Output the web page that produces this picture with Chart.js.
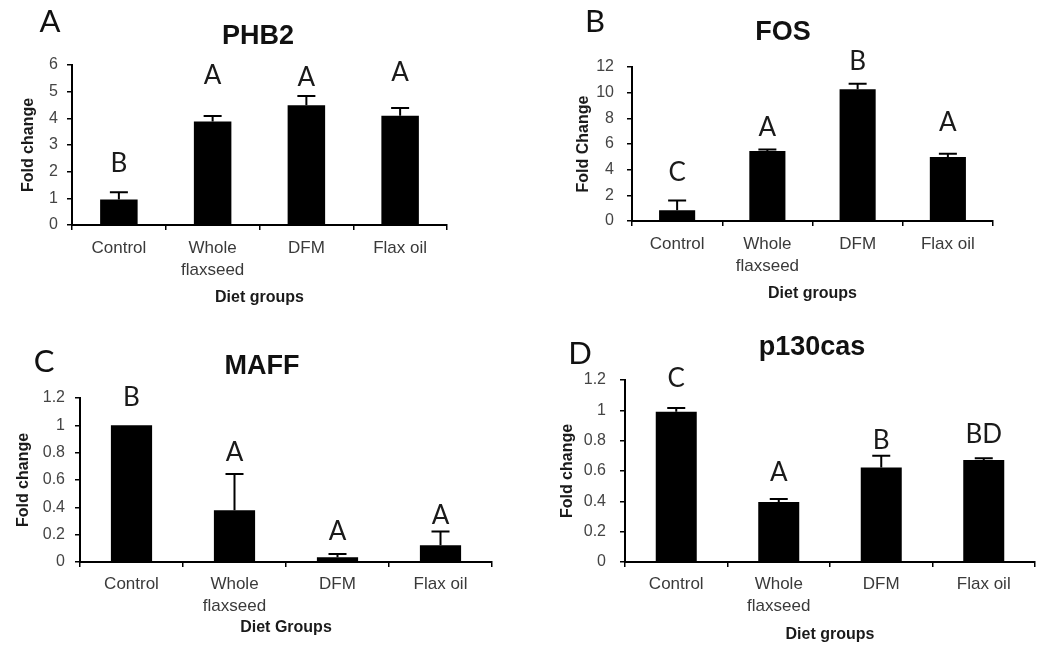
<!DOCTYPE html>
<html>
<head>
<meta charset="utf-8">
<script src="https://cdn.jsdelivr.net/npm/chart.js@4"></script>
<style>
  body { margin: 0; background: #fff; }
  #fig { position: relative; width: 1050px; height: 657px; overflow: hidden; }
  #fig canvas { position: absolute; }
</style>
</head>
<body>
<div id="fig">
  <canvas id="phb2Chart" width="525" height="310" style="left:0;top:0"></canvas>
  <canvas id="fosChart" width="525" height="310" style="left:525px;top:0"></canvas>
  <canvas id="maffChart" width="525" height="347" style="left:0;top:310px"></canvas>
  <canvas id="p130Chart" width="525" height="347" style="left:525px;top:310px"></canvas>
</div>
<script>
// Diet groups (x categories)
const groups = ["Control", ["Whole", "flaxseed"], "DFM", "Flax oil"];

// A - PHB2
const phb2Values = [0.96, 3.88, 4.49, 4.1];
const phb2Errors = [0.27, 0.21, 0.35, 0.29];
const phb2Letters = ["B", "A", "A", "A"];
const phb2LetterY = [2.29, 5.62, 5.51, 5.7];
const phb2Ticks = [0, 1, 2, 3, 4, 5, 6];

// B - FOS
const fosValues = [0.83, 5.45, 10.26, 4.99];
const fosErrors = [0.77, 0.13, 0.44, 0.26];
const fosLetters = ["C", "A", "B", "A"];
const fosLetterY = [3.74, 7.25, 12.4, 7.7];
const fosTicks = [0, 2, 4, 6, 8, 10, 12];

// C - MAFF
const maffValues = [1.0, 0.378, 0.034, 0.122];
const maffErrors = [0, 0.265, 0.024, 0.102];
const maffLetters = ["B", "A", "A", "A"];
const maffLetterY = [1.2, 0.8, 0.22, 0.34];
const maffTicks = [0, 0.2, 0.4, 0.6, 0.8, 1, 1.2];

// D - p130cas
const p130Values = [0.99, 0.395, 0.623, 0.673];
const p130Errors = [0.025, 0.02, 0.077, 0.011];
const p130Letters = ["C", "A", "B", "BD"];
const p130LetterY = [1.21, 0.59, 0.8, 0.84];
const p130Ticks = [0, 0.2, 0.4, 0.6, 0.8, 1, 1.2];

const SANS = "'Liberation Sans', Arial, sans-serif";
const LETTER_FONT = "Lato, 'Open Sans', sans-serif";

/**
 * Draws upward error bars and the significance letters above each bar
 */
const errorLetterPlugin = {
  id: "errorLetters",
  afterDatasetsDraw(chart, args, opts) {
    const ctx = chart.ctx;
    const yScale = chart.scales.y;
    const meta = chart.getDatasetMeta(0);
    const values = chart.data.datasets[0].data;

    ctx.save();
    ctx.strokeStyle = "#000";
    ctx.lineWidth = 2;
    meta.data.forEach((bar, i) => {
      const err = opts.errors[i];
      if (!err) return;
      const yTop = yScale.getPixelForValue(values[i] + err);
      ctx.beginPath();
      ctx.moveTo(bar.x, bar.y);
      ctx.lineTo(bar.x, yTop);
      ctx.moveTo(bar.x - 9, yTop);
      ctx.lineTo(bar.x + 9, yTop);
      ctx.stroke();
    });

    ctx.fillStyle = "#1a1a1a";
    ctx.font = "26px " + LETTER_FONT;
    ctx.textAlign = "center";
    ctx.textBaseline = "middle";
    meta.data.forEach((bar, i) => {
      ctx.fillText(opts.letters[i], bar.x, yScale.getPixelForValue(opts.letterY[i]));
    });
    ctx.restore();
  },
};

/**
 * Draws the panel letter and the gene title
 */
const panelTextPlugin = {
  id: "panelText",
  afterDraw(chart, args, opts) {
    const ctx = chart.ctx;
    ctx.save();
    ctx.textAlign = "center";
    ctx.textBaseline = "middle";
    ctx.fillStyle = "#111";
    ctx.font = "31px " + LETTER_FONT;
    ctx.fillText(opts.letter, opts.letterX, opts.letterY);
    ctx.font = "bold 27px " + SANS;
    ctx.fillText(opts.title, opts.titleX, opts.titleY);
    ctx.restore();
  },
};

function makePanel(canvasId, p) {
  const canvas = document.getElementById(canvasId);
  if (!canvas) {
    console.error("Canvas not found: " + canvasId);
    return null;
  }

  return new Chart(canvas, {
    type: "bar",
    data: {
      labels: groups,
      datasets: [
        {
          data: p.values,
          backgroundColor: "#000",
          borderWidth: 0,
          barPercentage: 0.4,
          categoryPercentage: 1,
        },
      ],
    },
    options: {
      responsive: false,
      animation: false,
      layout: { padding: p.padding },
      scales: {
        x: {
          grid: {
            drawOnChartArea: false,
            tickLength: 5,
            tickColor: "#000",
            lineWidth: 1.5,
          },
          border: { color: "#000", width: 2 },
          ticks: {
            color: "#3a3a3a",
            padding: p.xPad,
            maxRotation: 0,
            autoSkip: false,
            font: { family: SANS, size: 17, lineHeight: 1.32 },
          },
          title: {
            display: true,
            text: p.xTitle,
            color: "#1a1a1a",
            padding: 0,
            font: { family: SANS, size: 16, weight: "bold" },
          },
          afterFit: (scale) => {
            scale.height = p.xHeight;
          },
        },
        y: {
          min: 0,
          max: p.ticks[p.ticks.length - 1],
          afterBuildTicks: (scale) => {
            scale.ticks = p.ticks.map((v) => ({ value: v }));
          },
          grid: {
            drawOnChartArea: false,
            tickLength: 5,
            tickColor: "#000",
            lineWidth: 1.5,
          },
          border: { color: "#000", width: 2 },
          ticks: {
            color: "#444",
            padding: p.yPad,
            font: { family: SANS, size: 16 },
            callback: (v) => String(v),
          },
          title: {
            display: true,
            text: p.yTitle,
            color: "#1a1a1a",
            padding: { top: 3, bottom: 0 },
            font: { family: SANS, size: 16, weight: "bold" },
          },
          afterFit: (scale) => {
            scale.width = p.yWidth;
          },
        },
      },
      plugins: {
        legend: { display: false },
        tooltip: { enabled: false },
        errorLetters: {
          errors: p.errors,
          letters: p.letters,
          letterY: p.letterY,
        },
        panelText: p.text,
      },
    },
    plugins: [errorLetterPlugin, panelTextPlugin],
  });
}

makePanel("phb2Chart", {
  values: phb2Values,
  errors: phb2Errors,
  letters: phb2Letters,
  letterY: phb2LetterY,
  ticks: phb2Ticks,
  yTitle: "Fold change",
  xTitle: "Diet groups",
  padding: { left: 16, right: 78, top: 65, bottom: 3 },
  yWidth: 56,
  xHeight: 82,
  xPad: 7,
  yPad: 9,
  text: { title: "PHB2", titleX: 258, titleY: 37, letter: "A", letterX: 50, letterY: 22 },
});

makePanel("fosChart", {
  values: fosValues,
  errors: fosErrors,
  letters: fosLetters,
  letterY: fosLetterY,
  ticks: fosTicks,
  yTitle: "Fold Change",
  xTitle: "Diet groups",
  padding: { left: 46, right: 57, top: 67, bottom: 7 },
  yWidth: 61,
  xHeight: 82,
  xPad: 7,
  yPad: 13,
  text: { title: "FOS", titleX: 258, titleY: 33, letter: "B", letterX: 70, letterY: 22 },
});

makePanel("maffChart", {
  values: maffValues,
  errors: maffErrors,
  letters: maffLetters,
  letterY: maffLetterY,
  ticks: maffTicks,
  yTitle: "Fold change",
  xTitle: "Diet Groups",
  padding: { left: 11, right: 33, top: 88, bottom: 20 },
  yWidth: 69,
  xHeight: 75,
  xPad: 6,
  yPad: 10,
  text: { title: "MAFF", titleX: 262, titleY: 57, letter: "C", letterX: 44, letterY: 52 },
});

makePanel("p130Chart", {
  values: p130Values,
  errors: p130Errors,
  letters: p130Letters,
  letterY: p130LetterY,
  ticks: p130Ticks,
  yTitle: "Fold change",
  xTitle: "Diet groups",
  padding: { left: 30, right: 15, top: 70, bottom: 13 },
  yWidth: 70,
  xHeight: 82,
  xPad: 6,
  yPad: 14,
  text: { title: "p130cas", titleX: 287, titleY: 38, letter: "D", letterX: 55, letterY: 44 },
});
</script>
</body>
</html>
